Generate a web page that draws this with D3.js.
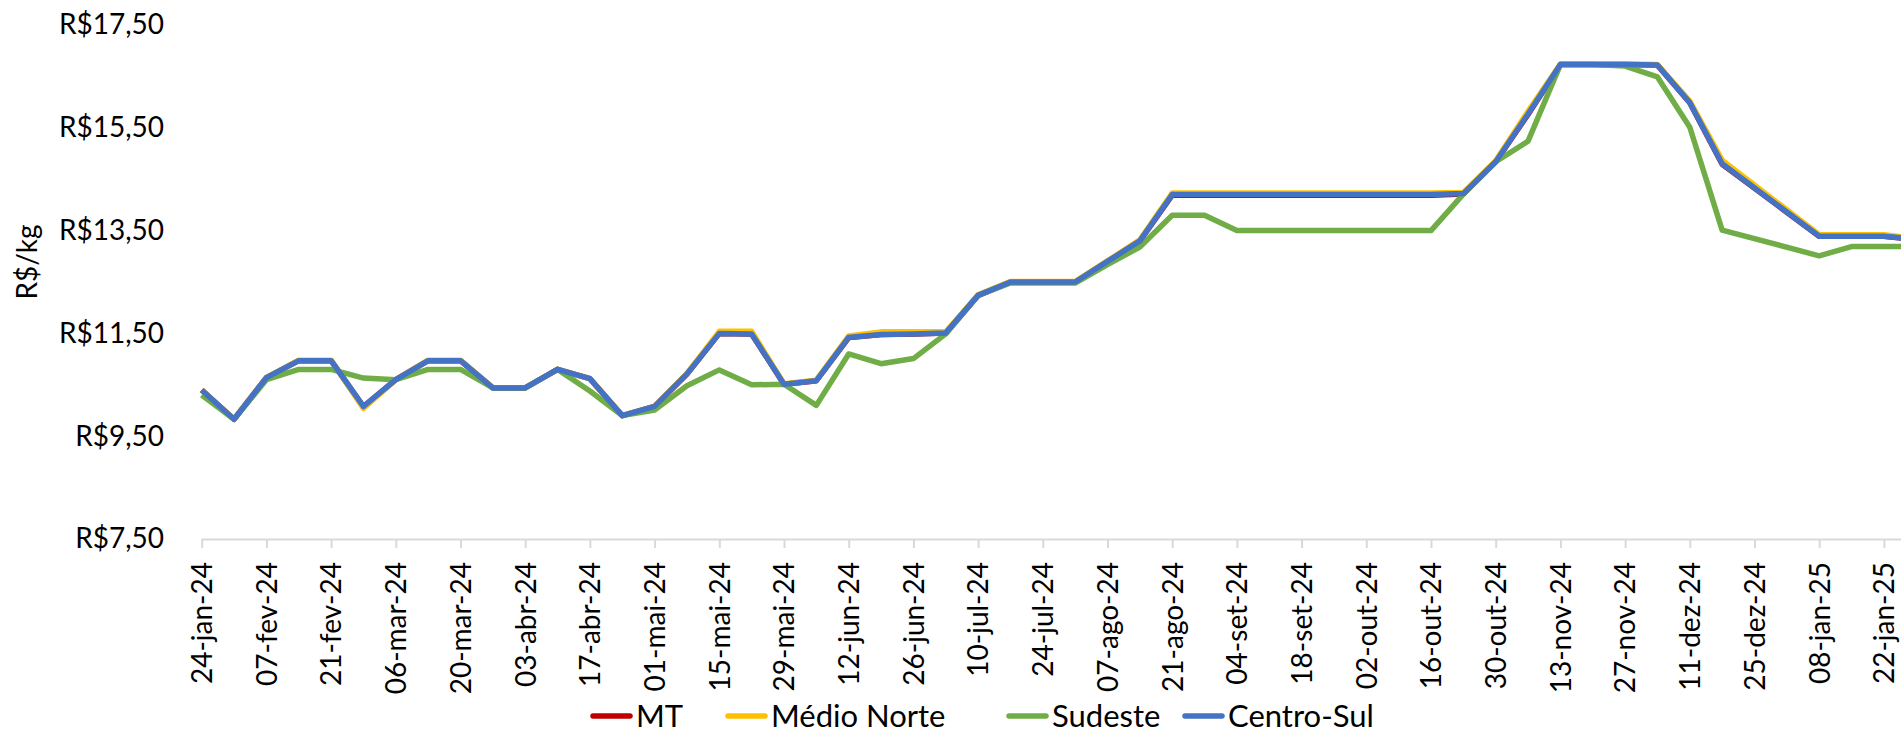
<!DOCTYPE html>
<html>
<head>
<meta charset="utf-8">
<script src="https://cdn.jsdelivr.net/npm/d3@7"></script>
<style>
  body { margin: 0; background: #fff; }
  svg { display: block; font-family: Lato, "Open Sans", sans-serif; }
</style>
</head>
<body>
<div id="chart"></div>
<script>
// weekly dates (25-dez and 01-jan have no quote)
var weeks = ["2024-01-24","2024-01-31","2024-02-07","2024-02-14","2024-02-21","2024-02-28",
  "2024-03-06","2024-03-13","2024-03-20","2024-03-27","2024-04-03","2024-04-10","2024-04-17",
  "2024-04-24","2024-05-01","2024-05-08","2024-05-15","2024-05-22","2024-05-29","2024-06-05",
  "2024-06-12","2024-06-19","2024-06-26","2024-07-03","2024-07-10","2024-07-17","2024-07-24",
  "2024-07-31","2024-08-07","2024-08-14","2024-08-21","2024-08-28","2024-09-04","2024-09-11",
  "2024-09-18","2024-09-25","2024-10-02","2024-10-09","2024-10-16","2024-10-23","2024-10-30",
  "2024-11-06","2024-11-13","2024-11-20","2024-11-27","2024-12-04","2024-12-11","2024-12-18",
  "2024-12-25","2025-01-01","2025-01-08","2025-01-15","2025-01-22","2025-01-29"];

var mt = [10.40,9.83,10.64,10.97,10.97,10.07,10.60,10.97,10.97,10.44,10.44,10.80,10.62,9.90,
  10.08,10.71,11.50,11.49,10.51,10.58,11.42,11.48,11.49,11.51,12.24,12.50,12.50,12.50,12.90,
  13.30,14.19,14.19,14.19,14.19,14.19,14.19,14.19,14.19,14.19,14.21,14.84,15.76,16.73,16.73,
  16.73,16.72,15.99,14.79,null,null,13.39,13.39,13.39,13.33];

var medioNorte = [10.40,9.83,10.64,10.98,10.98,10.04,10.60,10.98,10.98,10.44,10.44,10.80,10.62,9.90,
  10.08,10.72,11.54,11.54,10.52,10.59,11.45,11.53,11.53,11.53,12.25,12.51,12.51,12.51,12.91,
  13.32,14.23,14.23,14.23,14.23,14.23,14.23,14.23,14.23,14.23,14.24,14.86,15.82,16.74,16.74,
  16.74,16.73,16.02,14.87,null,null,13.42,13.42,13.42,13.34];

var sudeste = [10.30,9.83,10.60,10.80,10.80,10.63,10.60,10.80,10.80,10.44,10.44,10.80,10.38,9.90,
  10.01,10.48,10.79,10.50,10.51,10.10,11.10,10.91,11.01,11.49,12.24,12.48,12.48,12.48,12.84,
  13.18,13.80,13.80,13.50,13.50,13.50,13.50,13.50,13.50,13.50,14.21,14.84,15.24,16.73,16.73,
  16.70,16.49,15.51,13.51,null,null,13.01,13.19,13.19,13.19];

var centroSul = [10.40,9.83,10.64,10.97,10.97,10.08,10.60,10.97,10.97,10.44,10.44,10.80,10.62,9.90,
  10.08,10.71,11.50,11.49,10.51,10.58,11.42,11.48,11.49,11.51,12.24,12.50,12.50,12.50,12.90,
  13.30,14.20,14.20,14.20,14.20,14.20,14.20,14.20,14.20,14.20,14.22,14.84,15.77,16.73,16.73,
  16.73,16.72,15.99,14.80,null,null,13.39,13.39,13.39,13.33];

var seriesNames = ["MT", "Médio Norte", "Sudeste", "Centro-Sul"];
var seriesColors = ["#C00000", "#FFC000", "#70AD47", "#4472C4"];

var yTicks = [7.5, 9.5, 11.5, 13.5, 15.5, 17.5];
var yTickLabels = ["R$7,50", "R$9,50", "R$11,50", "R$13,50", "R$15,50", "R$17,50"];

var xTickDates = ["2024-01-24","2024-02-07","2024-02-21","2024-03-06","2024-03-20","2024-04-03",
  "2024-04-17","2024-05-01","2024-05-15","2024-05-29","2024-06-12","2024-06-26","2024-07-10",
  "2024-07-24","2024-08-07","2024-08-21","2024-09-04","2024-09-18","2024-10-02","2024-10-16",
  "2024-10-30","2024-11-13","2024-11-27","2024-12-11","2024-12-25","2025-01-08","2025-01-22"];
var xTickLabels = ["24-jan-24","07-fev-24","21-fev-24","06-mar-24","20-mar-24","03-abr-24",
  "17-abr-24","01-mai-24","15-mai-24","29-mai-24","12-jun-24","26-jun-24","10-jul-24",
  "24-jul-24","07-ago-24","21-ago-24","04-set-24","18-set-24","02-out-24","16-out-24",
  "30-out-24","13-nov-24","27-nov-24","11-dez-24","25-dez-24","08-jan-25","22-jan-25"];

var W = 1901, H = 733;
var parse = d3.timeParse("%Y-%m-%d");

var svg = d3.select("#chart").append("svg")
  .attr("width", W)
  .attr("height", H);

// x runs past the right edge of the picture (chart is cropped there)
var x = d3.scaleTime()
  .domain([parse(weeks[0]), parse(weeks[weeks.length - 1])])
  .range([201.7, 201.7 + 53 * 32.35]);
var y = d3.scaleLinear()
  .domain([7.5, 17.5])
  .range([539, 25]);

// x axis
var xAxis = svg.append("g")
  .attr("transform", "translate(0," + y(7.5) + ")")
  .call(d3.axisBottom(x)
    .tickValues(xTickDates.map(parse))
    .tickSize(9)
    .tickSizeOuter(0)
    .tickFormat(function (d, i) { return xTickLabels[i]; }));
xAxis.select(".domain").attr("stroke", "#D9D9D9").attr("stroke-width", 2);
xAxis.selectAll(".tick line").attr("stroke", "#D9D9D9").attr("stroke-width", 2);
xAxis.selectAll(".tick text")
  .attr("transform", "rotate(-90)")
  .attr("text-anchor", "end")
  .attr("x", -23)
  .attr("y", 0)
  .attr("dy", "0.35em")
  .attr("fill", "#000")
  .style("font-size", "28px")
  .style("font-family", "Lato, sans-serif");

// y axis, labels only
var yAxis = svg.append("g")
  .attr("transform", "translate(164,0)")
  .call(d3.axisLeft(y)
    .tickValues(yTicks)
    .tickSize(0)
    .tickPadding(0)
    .tickFormat(function (d, i) { return yTickLabels[i]; }));
yAxis.select(".domain").remove();
yAxis.selectAll(".tick text")
  .attr("fill", "#000")
  .style("font-size", "28px")
  .style("font-family", "Lato, sans-serif");

// y axis title
svg.append("text")
  .attr("transform", "translate(27,262) rotate(-90)")
  .attr("text-anchor", "middle")
  .attr("dy", "0.35em")
  .style("font-size", "28px")
  .text("R$/kg");

// lines (gaps are bridged like in the original chart)
var allSeries = [mt, medioNorte, sudeste, centroSul];
var line = d3.line()
  .x(function (d) { return x(d.date); })
  .y(function (d) { return y(d.v); });

allSeries.forEach(function (vals, s) {
  var pts = weeks.map(function (w, i) { return { date: parse(w), v: vals[i] }; })
    .filter(function (d) { return d.v != null; });
  svg.append("path")
    .datum(pts)
    .attr("fill", "none")
    .attr("stroke", seriesColors[s])
    .attr("stroke-width", 5.5)
    .attr("stroke-linejoin", "round")
    .attr("d", line);
});

// legend, item starts as in the original
var legendX = [590, 725, 1006, 1182];
var legend = svg.append("g").attr("transform", "translate(0,716)");
seriesNames.forEach(function (name, s) {
  legend.append("line")
    .attr("x1", legendX[s] + 3).attr("x2", legendX[s] + 40)
    .attr("y1", 0).attr("y2", 0)
    .attr("stroke", seriesColors[s])
    .attr("stroke-width", 5.5)
    .attr("stroke-linecap", "round");
  legend.append("text")
    .attr("x", legendX[s] + 46)
    .attr("dy", "0.35em")
    .style("font-size", "31px")
    .text(name);
});
</script>
</body>
</html>
